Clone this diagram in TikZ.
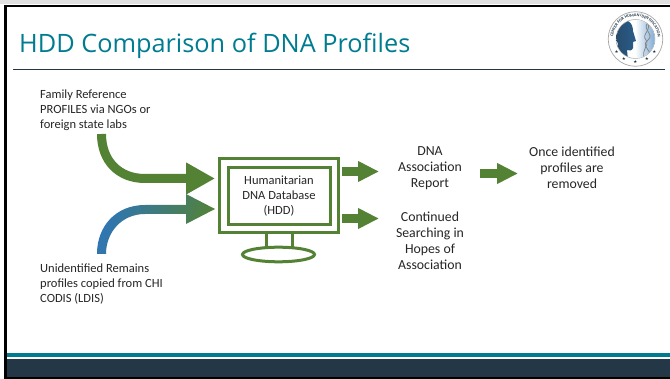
\documentclass[tikz,border=0pt]{standalone}
\usepackage{fontspec}
\setmainfont{Carlito}
\newfontfamily\titlefont{Open Sans}
\newfontfamily\symfont{DejaVu Sans}
\usetikzlibrary{arrows.meta,decorations.text,shapes.geometric}
\definecolor{grn}{HTML}{548235}
\definecolor{blu}{HTML}{2E75B6}
\definecolor{tealc}{HTML}{007C91}
\definecolor{navy}{HTML}{233746}
\tikzset{
  lbl/.style={font=\fontsize{12.5}{15}\selectfont,text=black!85,align=left,anchor=west,inner sep=0pt},
  clbl/.style={font=\fontsize{13.8}{16}\selectfont,text=black!85,align=center,inner sep=0pt},
  blockarrow/.style={draw=grn,line width=9pt,-{Triangle[length=21pt,width=19.5pt]}},
  bigarrow/.style={draw=grn,line width=9pt,-{Triangle[length=29pt,width=30pt]}},
  mon/.style={draw=grn,line width=3pt,fill=white}
}
\begin{document}
\begin{tikzpicture}[x=1pt,y=-1pt]
\useasboundingbox (0,0) rectangle (670,379);
\fill[white] (0,0) rectangle (670,379);
\fill[black!12] (0,0) rectangle (670,4.5);
% frame and footer
\fill[tealc] (7,353) rectangle (670,357);
\fill[navy] (7,359) rectangle (670,377.5);
\fill[black] (4,5) rectangle (670,7.5);
\fill[black] (4,5) rectangle (7,379);
\fill[black] (4,377.5) rectangle (670,379);
% title
\node[anchor=west,inner sep=0pt,text=tealc,font=\titlefont\fontsize{25.3}{29}\selectfont] (title) at (19,46) {HDD Comparison of DNA Profiles};
\draw[navy,line width=0.9pt] (13,69) -- (665,69);
% logo
\coordinate (lc) at (635.5,39);
\fill[white] (lc) circle (27.5);
\draw[black!35,line width=0.7pt] (lc) circle (27.3);
\draw[black!35,line width=0.5pt] (lc) circle (19.5);
\begin{scope}
\clip (lc) circle (19.2);
\shade[left color=white,right color=blu!65] (635,15) rectangle (656,62);
\shade[left color=navy!70!blu,right color=blu!60!navy] (622,22)
  .. controls (626,18) and (633,22) .. (633,31)
  -- (636,41) -- (633,42) -- (633,48) .. controls (632,51) and (629,51) .. (627,50)
  -- (628,60) -- (612,60) -- (618,44) .. controls (614,36) and (616,26) .. (622,22) -- cycle;
\draw[black!50,line width=0.7pt] (644,20) .. controls (656,28) and (640,34) .. (646,40) .. controls (650,46) and (640,50) .. (645,60);
\draw[black!50,line width=0.7pt] (651,20) .. controls (638,28) and (656,34) .. (648,40) .. controls (640,46) and (652,50) .. (652,60);
\end{scope}
\path[postaction={decorate,decoration={text along path,text align=center,
  text={|\fontsize{4.2}{5}\selectfont\bfseries\color{navy}|CENTER FOR HUMAN IDENTIFICATION}}}]
  (613.08,40.96) arc[start angle=175,end angle=365,radius=22.5];
\foreach \a in {145,120,90,60,35}{
  \node[text=navy,inner sep=0pt,font=\symfont\fontsize{4.5}{5}\selectfont] (s\a) at ([shift={(\a:23)}]lc) {★};
}
% texts
\node[lbl] (family) at (40,110.5) {Family Reference\\PROFILES via NGOs or\\foreign state labs};
\node[lbl] (remains) at (40,284) {Unidentified Remains\\profiles copied from CHI\\CODIS (LDIS)};
% monitor
\draw[mon] (266,231) rectangle (292,249);
\draw[mon] (278.5,254.5) ellipse[x radius=36,y radius=7.3];
\node[mon,minimum width=119pt,minimum height=74pt,inner sep=0pt] (screen) at (278.5,196) {};
\node[mon,minimum width=102pt,minimum height=57pt,inner sep=0pt,align=center,text=black!85,font=\fontsize{12.5}{15}\selectfont] (hdd) at (279,196.5) {Humanitarian\\DNA Database\\(HDD)};
% input arrows
\coordinate (famstart) at (101.5,134);
\coordinate (fambend) at (145,178.5);
\coordinate (famend) at (215,178.5);
\draw[bigarrow] (famstart) .. controls (101.5,160) and (118,178.5) .. (fambend) -- (famend);
\coordinate (remstart) at (97,254);
\shade[left color=blu,right color=grn,shading angle=70] (remstart)
  .. controls (97,226) and (116,205) .. (145,205) -- (186,205) -- (186,194) -- (215,209)
  -- (186,224) -- (186,214) -- (145,214) .. controls (122,214) and (106,232) .. (106,254) -- cycle;
% output labels
\node[clbl] (report) at (430,168) {DNA\\Association\\Report};
\node[clbl] (search) at (430,241) {Continued\\Searching in\\Hopes of\\Association};
\node[clbl] (once) at (572,167.7) {Once identified\\profiles are\\removed};
% output arrows
\coordinate (a1) at (342,171.5); \coordinate (b1) at (379,171.5);
\coordinate (a2) at (342,218.5); \coordinate (b2) at (379,218.5);
\coordinate (a3) at (480,173.5); \coordinate (b3) at (518,173.5);
\draw[blockarrow] (a1) -- (b1);
\draw[blockarrow] (a2) -- (b2);
\draw[blockarrow] (a3) -- (b3);
\end{tikzpicture}
\end{document}
